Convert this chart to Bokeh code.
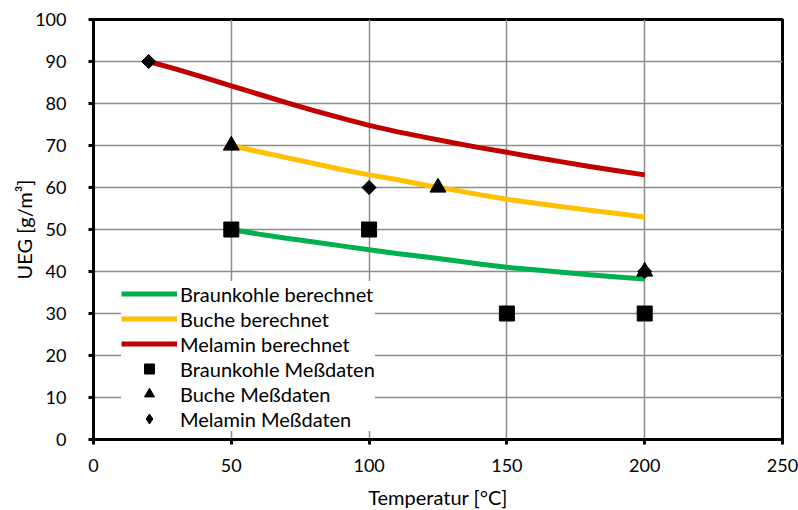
import numpy as np
from bokeh.plotting import figure
from bokeh.models import Legend, LegendItem, FixedTicker, Range1d, ColumnDataSource
from bokeh.embed import file_html
from bokeh.resources import INLINE

# computed curves
mel_calc_t = [20, 30, 40, 50, 60, 70, 80, 90, 100, 110, 120, 130, 140, 150, 160, 170, 180, 190, 200]
mel_calc_ueg = [90.0, 88.2, 86.2, 84.2, 82.2, 80.2, 78.3, 76.5, 74.8, 73.3, 72.0, 70.7, 69.5, 68.4, 67.2, 66.1, 65.0, 64.0, 63.0]

buc_calc_t = [50, 60, 70, 80, 90, 100, 110, 120, 130, 140, 150, 160, 170, 180, 190, 200]
buc_calc_ueg = [70.0, 68.5, 67.1, 65.7, 64.3, 63.0, 61.9, 60.6, 59.5, 58.3, 57.2, 56.3, 55.4, 54.6, 53.8, 53.0]

brk_calc_t = [50, 60, 70, 80, 90, 100, 110, 120, 130, 140, 150, 160, 170, 180, 190, 200]
brk_calc_ueg = [50.0, 48.9, 47.9, 47.0, 46.1, 45.2, 44.3, 43.5, 42.7, 41.8, 41.0, 40.4, 39.8, 39.2, 38.7, 38.2]

# measured data
brk_meas_t = [50, 100, 150, 200]
brk_meas_ueg = [50, 50, 30, 30]
buc_meas_t = [50, 125, 200]
buc_meas_ueg = [70, 60, 40]
mel_meas_t = [20, 100, 200]
mel_meas_ueg = [90, 60, 40]

x_ticks = [0, 50, 100, 150, 200, 250]
y_ticks = [0, 10, 20, 30, 40, 50, 60, 70, 80, 90, 100]

FONT = "Lato"

p = figure(frame_width=689, frame_height=420, output_backend="svg", toolbar_location=None,
           x_range=Range1d(0, 250), y_range=Range1d(0, 100),
           min_border_left=93, min_border_right=16, min_border_top=19, min_border_bottom=71)
p.background_fill_color = "white"
p.border_fill_color = "white"
p.outline_line_color = "black"
p.outline_line_width = 3

for ax in (p.xaxis, p.yaxis):
    ax.axis_line_color = "black"
    ax.axis_line_width = 3
    ax.major_tick_line_color = "black"
    ax.major_tick_line_width = 3
    ax.major_tick_out = 5
    ax.major_tick_in = 0
    ax.minor_tick_line_color = None
    ax.major_label_text_font = FONT
    ax.major_label_text_font_size = "18px"
    ax.major_label_text_color = "black"
    ax.axis_label_text_font = FONT
    ax.axis_label_text_font_size = "20px"
    ax.axis_label_text_font_style = "normal"
    ax.axis_label_text_color = "black"

p.xaxis.ticker = FixedTicker(ticks=x_ticks)
p.yaxis.ticker = FixedTicker(ticks=y_ticks)
p.xaxis.axis_label = "Temperatur [°C]"
p.yaxis.axis_label = "UEG [g/m³]"
p.yaxis.major_label_standoff = 22
p.xaxis.major_label_standoff = 14
p.yaxis.axis_label_standoff = -4
p.xaxis.axis_label_standoff = 10

p.xgrid.ticker = FixedTicker(ticks=x_ticks)
p.ygrid.ticker = FixedTicker(ticks=y_ticks)
for g in (p.xgrid, p.ygrid):
    g.grid_line_color = "#8c8c8c"
    g.grid_line_width = 1.5

r_brk = p.line(brk_calc_t, brk_calc_ueg, line_color="#00b050", line_width=5)
r_buc = p.line(buc_calc_t, buc_calc_ueg, line_color="#ffc000", line_width=5)
r_mel = p.line(mel_calc_t, mel_calc_ueg, line_color="#c00000", line_width=5)

m_brk = p.scatter(brk_meas_t, brk_meas_ueg, marker="square", size=15, fill_color="black", line_color="black")
m_buc = p.scatter(buc_meas_t, buc_meas_ueg, marker="triangle", size=16, fill_color="black", line_color="black")
mel_src = ColumnDataSource(data=dict(x=mel_meas_t, y=mel_meas_ueg))
m_mel = p.scatter("x", "y", source=mel_src, marker="square", angle=np.pi / 4, size=10,
                  fill_color="black", line_color="black")
# legend glyph for the diamond (the legend draws markers unrotated at its own size);
# size 0 so it adds nothing visible in the plot area
m_mel_leg = p.scatter("x", "y", source=mel_src, marker="diamond", size=0,
                      fill_color="black", line_color="black")

legend = Legend(items=[
    LegendItem(label="Braunkohle berechnet", renderers=[r_brk]),
    LegendItem(label="Buche berechnet", renderers=[r_buc]),
    LegendItem(label="Melamin berechnet", renderers=[r_mel]),
    LegendItem(label="Braunkohle Meßdaten", renderers=[m_brk]),
    LegendItem(label="Buche Meßdaten", renderers=[m_buc]),
    LegendItem(label="Melamin Meßdaten", renderers=[m_mel_leg]),
], location=(28, 8))
legend.label_text_font = FONT
legend.label_text_font_size = "20px"
legend.label_text_color = "black"
legend.glyph_width = 56
legend.glyph_height = 25
legend.label_height = 25
legend.label_standoff = 3
legend.spacing = 0
legend.padding = 6
legend.margin = 0
legend.border_line_color = None
legend.background_fill_color = "white"
legend.background_fill_alpha = 1.0
p.add_layout(legend, "center")

open("out.html", "w").write(file_html(p, INLINE))
